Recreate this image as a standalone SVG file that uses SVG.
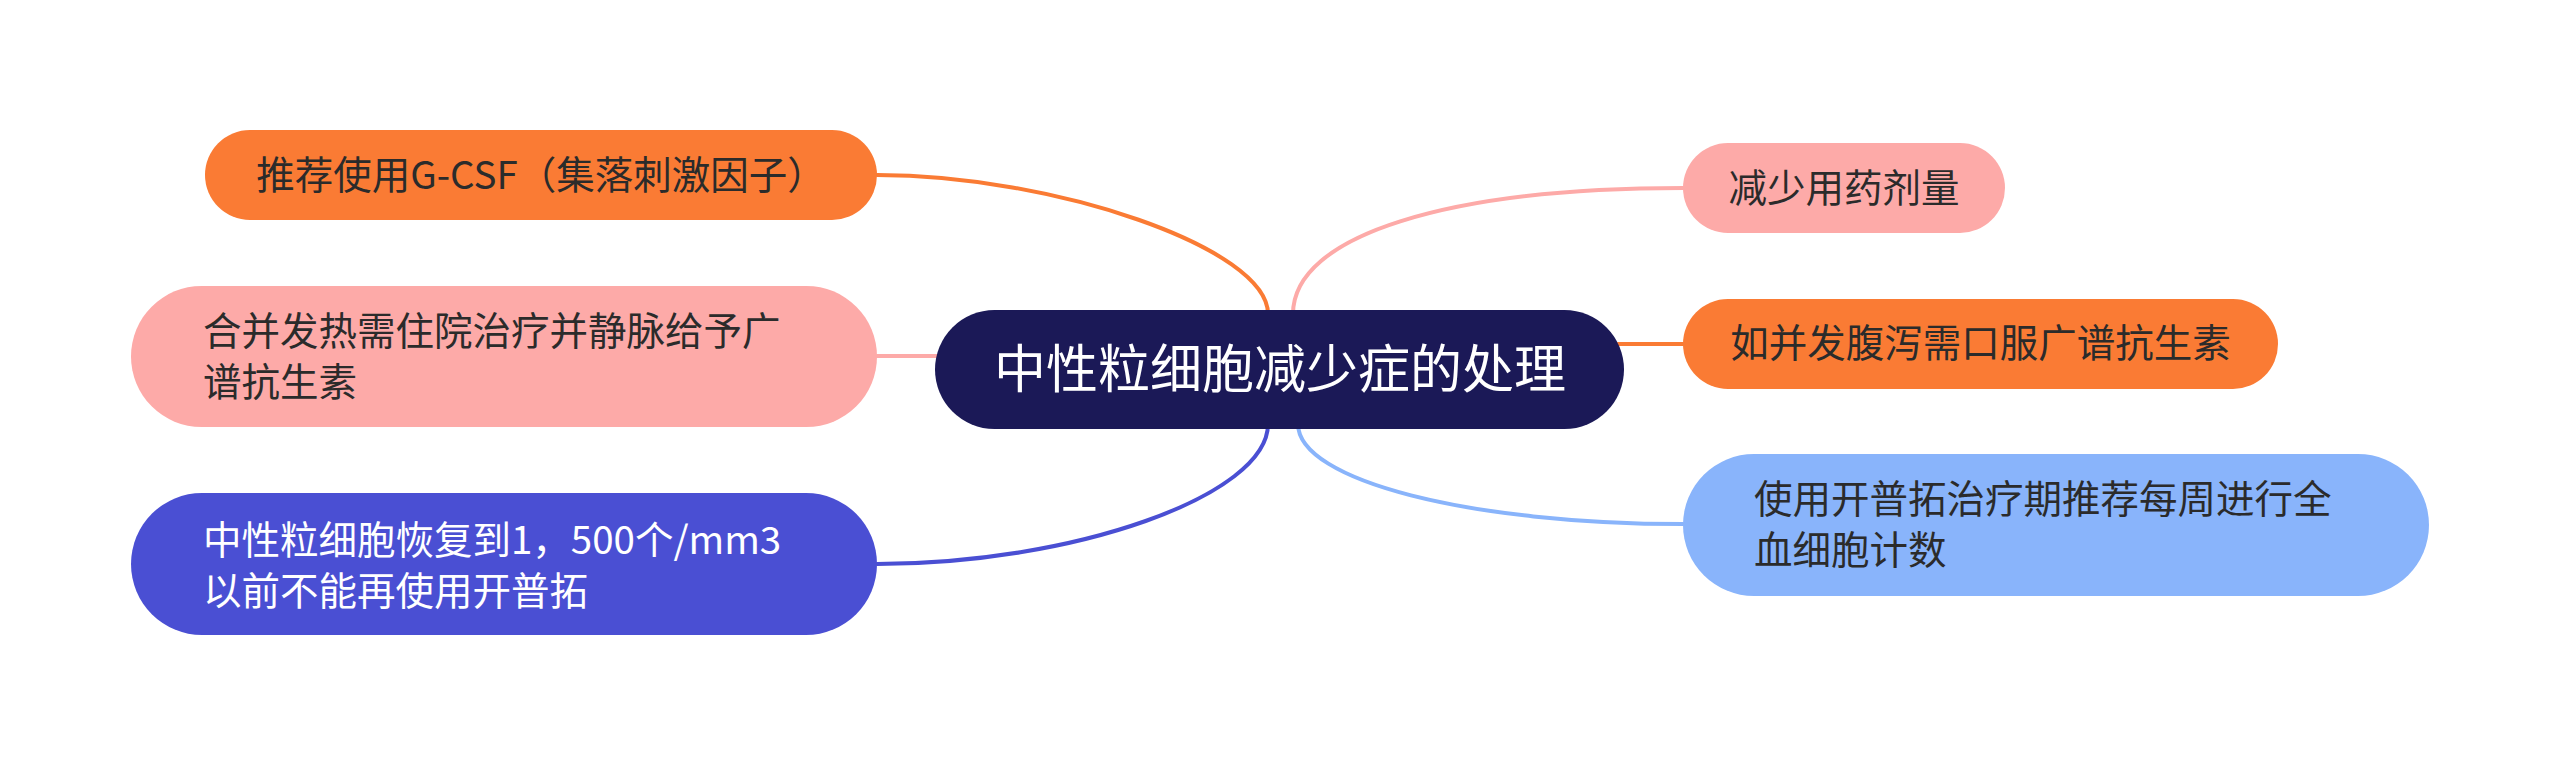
<svg xmlns="http://www.w3.org/2000/svg" width="2560" height="765" viewBox="0 0 2560 765">
<style>
text{font-family:"Noto Sans CJK SC","Noto Sans",sans-serif;font-size:38.5px;}
.dark{fill:#2b2b2b;}
.light{fill:#ffffff;}
.c{text-anchor:middle;}
.conn path,.conn line{fill:none;stroke-width:4;stroke-linecap:round;}
</style>
<rect width="2560" height="765" fill="#ffffff"/>
<g id="connectors" class="conn">
<path d="M877,175 C1053,175 1268,248 1268,314" stroke="#fa7b34"/>
<line x1="877" y1="356" x2="940" y2="356" stroke="#fdaaa8"/>
<path d="M1268,424 C1268,496 1072,564 877,564" stroke="#4a4fd3"/>
<path d="M1293,314 C1293,235 1449,188 1683,188" stroke="#fdaaa8"/>
<line x1="1618" y1="344" x2="1683" y2="344" stroke="#fa7b34"/>
<path d="M1298,424 C1298,481 1471,524 1683,524" stroke="#89b4fb"/>
</g>
<g id="node-center">
<rect x="935" y="310" width="689" height="119" rx="59.5" fill="#1b1957"/>
<text class="light c" x="1280" y="388" style="font-size:52px">中性粒细胞减少症的处理</text>
</g>
<g id="node-l1">
<rect x="205" y="130" width="672" height="90" rx="45" fill="#fa7b34"/>
<text class="dark c" x="541" y="189">推荐使用G-CSF（集落刺激因子）</text>
</g>
<g id="node-l2">
<rect x="131" y="286" width="746" height="141" rx="70.5" fill="#fdaaa8"/>
<text class="dark" x="203" y="345">合并发热需住院治疗并静脉给予广</text>
<text class="dark" x="203" y="396">谱抗生素</text>
</g>
<g id="node-l3">
<rect x="131" y="493" width="746" height="142" rx="71" fill="#4a4fd3"/>
<text class="light" x="203" y="554">中性粒细胞恢复到1，500个/mm3</text>
<text class="light" x="203" y="605">以前不能再使用开普拓</text>
</g>
<g id="node-r1">
<rect x="1683" y="143" width="322" height="90" rx="45" fill="#fdaaa8"/>
<text class="dark c" x="1844" y="202">减少用药剂量</text>
</g>
<g id="node-r2">
<rect x="1683" y="299" width="595" height="90" rx="45" fill="#fa7b34"/>
<text class="dark c" x="1980.5" y="357">如并发腹泻需口服广谱抗生素</text>
</g>
<g id="node-r3">
<rect x="1683" y="454" width="746" height="142" rx="71" fill="#89b4fb"/>
<text class="dark" x="1754" y="513">使用开普拓治疗期推荐每周进行全</text>
<text class="dark" x="1754" y="564">血细胞计数</text>
</g>
</svg>
